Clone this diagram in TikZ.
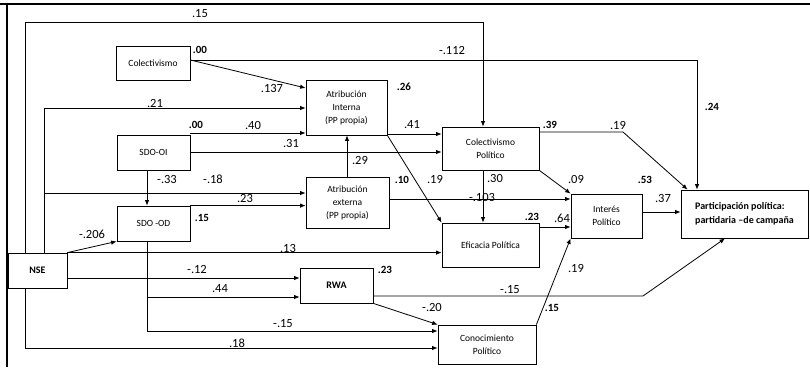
\documentclass[tikz,border=0pt]{standalone}
\usepackage{fontspec}
\setmainfont{Carlito}
\usetikzlibrary{arrows.meta}

\begin{document}
\begin{tikzpicture}[
  x=1pt, y=-1pt,
  var/.style={draw, line width=0.8pt, inner sep=1pt, align=center, font=\fontsize{9.5}{13}\selectfont},
  lab/.style={font=\fontsize{12.5}{14}\selectfont, inner sep=0pt},
  rsq/.style={font=\fontsize{11}{13}\selectfont\bfseries, inner sep=0pt},
  link/.style={->, line width=0.8pt},
  >={Latex[length=5.5pt,width=4.5pt]},
]
\useasboundingbox (0,0) rectangle (810,367);
\draw[line width=2.5pt] (0,4) -- (810,4);
\draw[line width=2.5pt] (7,4) -- (7,367);

% variables
\node[var, minimum width=74, minimum height=34] (colect) at (153,63) {Colectivismo};
\node[var, minimum width=81, minimum height=55] (atrint) at (346.5,107.5) {Atribución\\Interna\\(PP propia)};
\node[var, minimum width=73, minimum height=35] (sdooi) at (153.5,152.5) {SDO-OI};
\node[var, minimum width=73, minimum height=35] (sdood) at (153.5,223.5) {SDO -OD};
\node[var, minimum width=83, minimum height=51] (atrext) at (347.5,202.5) {Atribución\\externa\\(PP propia)};
\node[var, minimum width=97, minimum height=43] (colpol) at (490.5,148.5) {Colectivismo\\Político};
\node[var, minimum width=97, minimum height=44] (efic) at (490.5,245) {Eficacia Política};
\node[var, minimum width=71, minimum height=44] (interes) at (606.5,216) {Interés\\Político};
\node[var, minimum width=127, minimum height=48, align=left, font=\fontsize{10}{14}\selectfont\bfseries] (partic) at (744.5,214) {Participación política:\\partidaria --de campaña};
\node[var, minimum width=59, minimum height=35, font=\fontsize{10}{12}\selectfont\bfseries] (nse) at (37.5,270.5) {NSE};
\node[var, minimum width=73, minimum height=35, font=\fontsize{10}{12}\selectfont\bfseries] (rwa) at (336.5,285.5) {RWA};
\node[var, minimum width=98, minimum height=39] (conoc) at (487,344.5) {Conocimiento\\Político};

% explained variance
\node[rsq] (r2colect) at (200,50) {.00};
\node[rsq] (r2atrint) at (404,87) {.26};
\node[rsq] (r2sdooi) at (196,125) {.00};
\node[rsq] (r2sdood) at (202,218) {.15};
\node[rsq] (r2atrext) at (402,180) {.10};
\node[rsq] (r2colpol) at (550,125) {.39};
\node[rsq] (r2efic) at (532,217) {.23};
\node[rsq] (r2interes) at (645,180) {.53};
\node[rsq] (r2partic) at (712,107) {.24};
\node[rsq] (r2rwa) at (385,270) {.23};
\node[rsq] (r2conoc) at (552,308) {.15};

\coordinate (nsebr) at (44,193);

% paths from NSE
\draw[link] (nse.north -| 25,0) |- (483,22) -- (colpol.north -| 483,0) node[lab] at (200,14) {.15};
\draw[link] (nse.north -| 44,0) |- (atrint.west |- 0,108) node[lab] at (155,103) {.21};
\draw[link] (nsebr) -- (atrext.west |- nsebr) node[lab] at (213,179) {-.18};
\draw[link] (nse.north east) -- (sdood.south west) node[lab] at (92,234) {-.206};
\draw[link] (nse.north east) -- (efic.west |- nse.north east) node[lab] at (288,248) {.13};
\draw[link] (nse.east |- 0,278) -- (rwa.west |- 0,278) node[lab] at (197,269) {-.12};
\draw[link] (nse.south -| 25,0) |- (conoc.west |- 0,348) node[lab] at (237,343) {.18};

% Colectivismo
\draw[link] (colect.east |- 0,60) -- (atrint.west |- 0,88) node[lab] at (272,88) {.137};
\draw[link] (colect.east |- 0,60) -| (partic.north -| 697,0) node[lab] at (452,50) {-.112};

% SDO
\draw[link] (sdooi.east |- 0,133) -- (atrint.west |- 0,133) node[lab] at (253,125) {.40};
\draw[link] (sdooi.east |- 0,152) -- (colpol.west |- 0,152) node[lab] at (291,143) {.31};
\draw[link] (sdooi.south -| 147,0) -- (sdood.north -| 147,0) node[lab] at (167,179) {-.33};
\draw[link] (sdood.north east) -- (atrext.west |- sdood.north east) node[lab] at (245,198) {.23};
\draw[link] (sdood.south -| 147,0) |- (rwa.west |- 0,297) node[lab] at (220,289) {.44};
\draw[link] (sdood.south -| 147,0) |- (conoc.west |- 0,331) node[lab] at (283,324) {-.15};

% attributions
\draw[link] (atrext.north -| 347,0) -- (atrint.south -| 347,0) node[lab] at (360,160) {.29};
\draw[link] (atrint.east |- 0,134) -- (colpol.west |- 0,134) node[lab] at (412,125) {.41};
\draw[link] (atrint.south east) -- (efic.north west) node[lab] at (435,179) {.19};
\draw[link] (atrext.east |- 0,199) -- (interes.west |- 0,199) node[lab] at (482,197) {-.103};

% political variables
\draw[link] (colpol.south -| 483,0) -- (efic.north -| 483,0) node[lab] at (495,178) {.30};
\draw[link] (colpol.south east) -- (interes.north west) node[lab] at (576,179) {.09};
\draw[link] (colpol.east |- 0,132) -- (623,132) -- ([xshift=7pt]partic.north west) node[lab] at (618,125) {.19};
\draw[link] (efic.east |- 0,227) -- (interes.west |- 0,227) node[lab] at (562,218) {.64};
\draw[link] (interes.east |- 0,212) -- (partic.west |- 0,212) node[lab] at (663,198) {.37};

% RWA and Conocimiento
\draw[link] (rwa.south east) -- (conoc.north west) node[lab] at (432,307) {-.20};
\draw[link] (rwa.east |- 0,296) -- (643,296) -- (partic.south -| 725,0) node[lab] at (510,290) {-.15};
\draw[link] (conoc.north east) -- (interes.south west) node[lab] at (576,268) {.19};
\end{tikzpicture}
\end{document}
